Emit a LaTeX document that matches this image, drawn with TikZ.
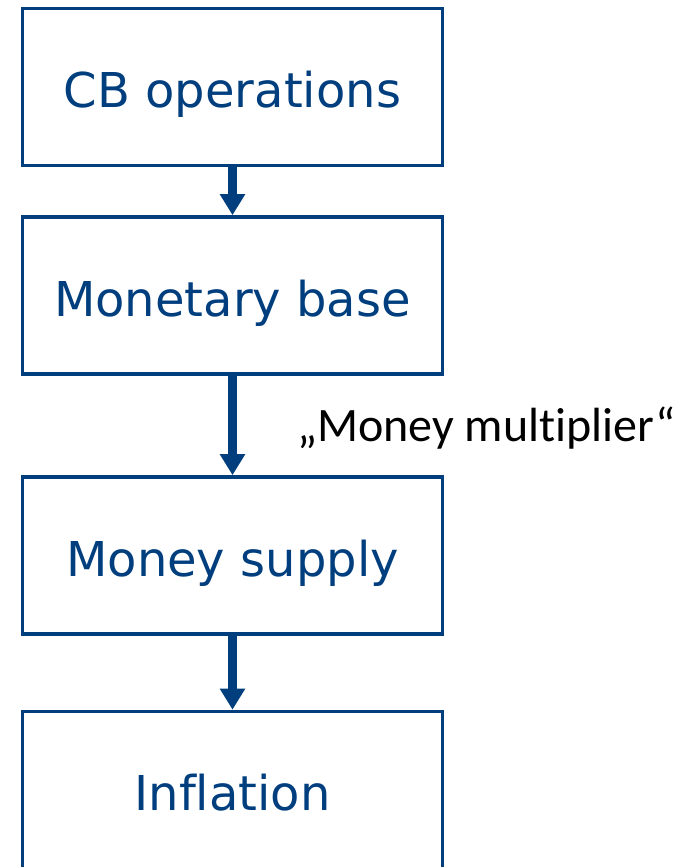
\documentclass[tikz,border=0pt]{standalone}
\usepackage{fontspec}
\setmainfont[Ligatures=NoCommon]{DejaVu Sans}
\newfontfamily\calibfont[Ligatures=NoCommon]{Carlito}
\usetikzlibrary{arrows.meta}
\definecolor{cbblue}{RGB}{0,62,126}
\tikzset{
	stage/.style={draw=cbblue,line width=3.6pt,minimum width=420pt,minimum height=157pt,inner sep=0pt,text height=41pt,text depth=0pt,text=cbblue,font=\fontsize{48}{58}\selectfont},
	flow/.style={draw=cbblue,line width=9pt,-{Triangle[width=24pt,length=21pt]}}
}
\begin{document}
\begin{tikzpicture}[x=1pt,y=-1pt]
		\clip (0,0) rectangle (692,867);
		%BOXES
		\node[stage] (ops) at (232.5,87) {CB operations};
		\node[stage] (base) at (232.5,295.5) {Monetary base};
		\node[stage] (supply) at (232.5,555.5) {Money supply};
		\node[stage] (infl) at (232.5,790) {Inflation};
		
		%ARROWS
		\draw[flow] (ops) -- (base);
		\draw[flow] (base) -- (supply);
		\draw[flow] (supply) -- (infl);
		\node[anchor=west,inner sep=0pt,font=\calibfont\fontsize{48}{58}\selectfont] (mult) at (297,428) {„Money multiplier“};
\end{tikzpicture}
\end{document}
